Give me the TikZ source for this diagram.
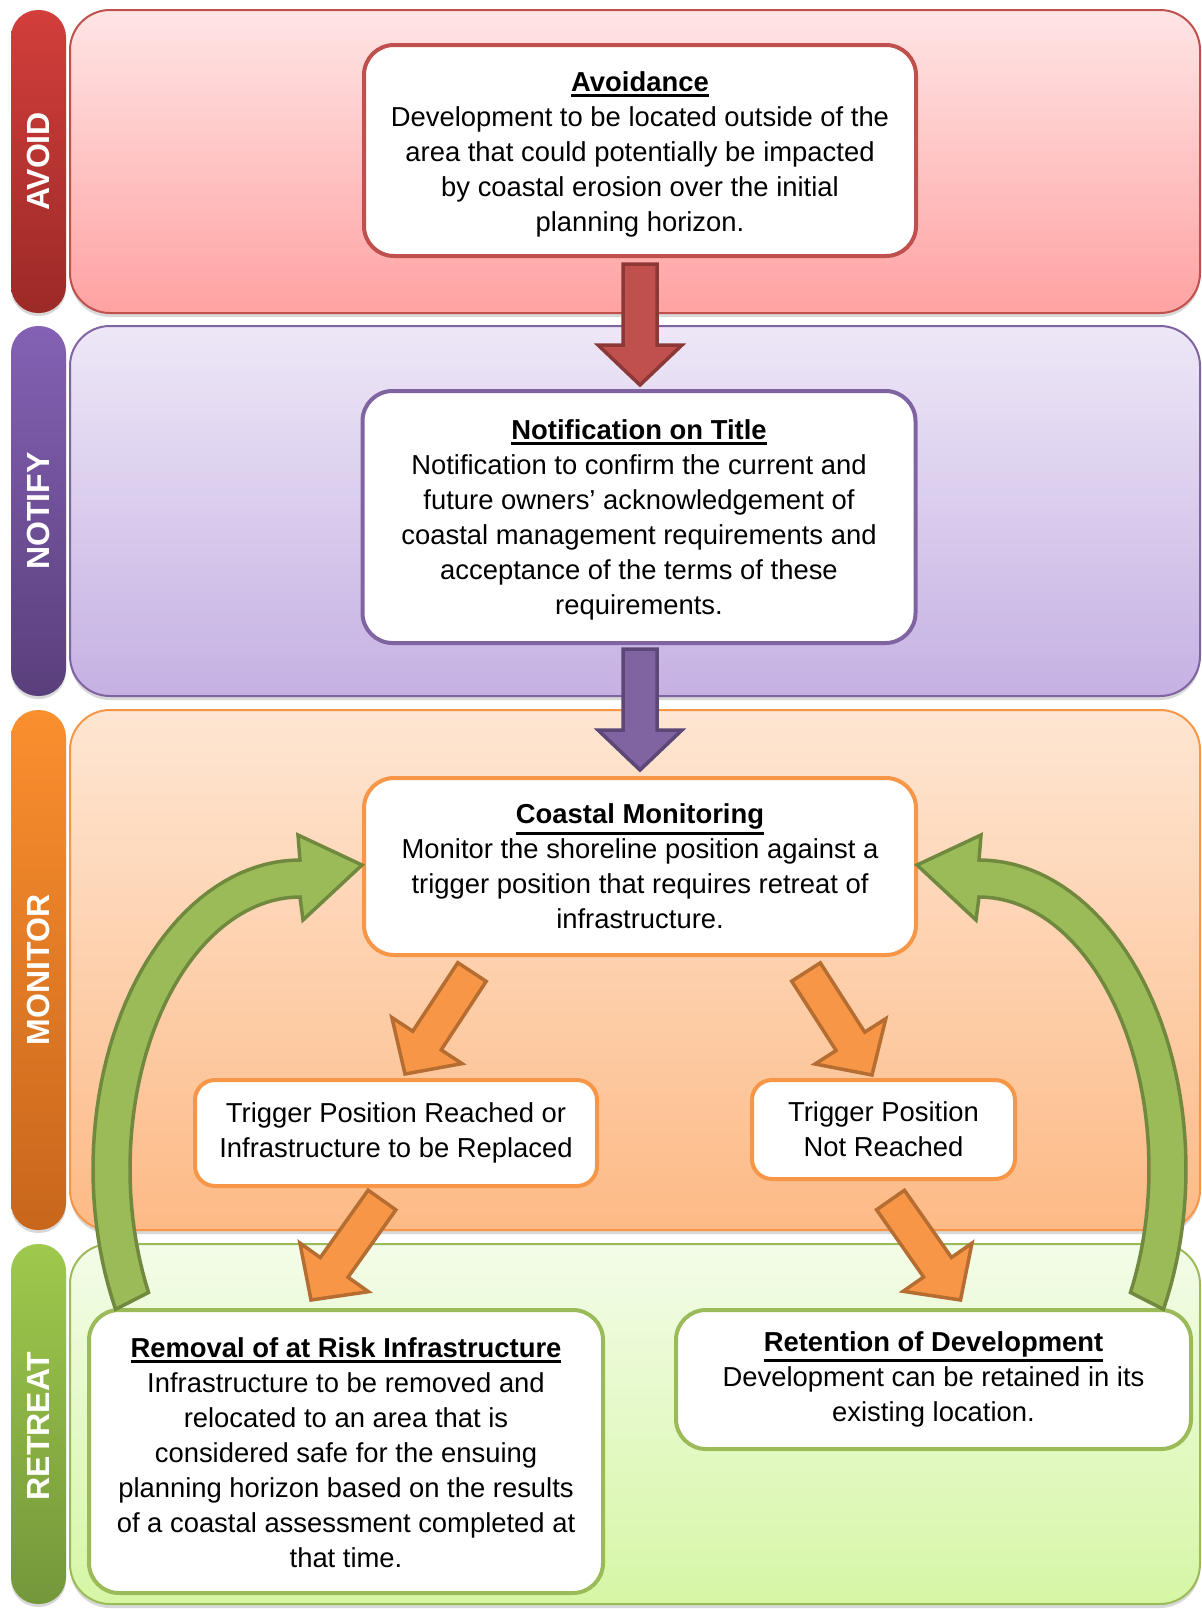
\documentclass[tikz,border=0pt]{standalone}
\usepackage{fontspec}
\setmainfont{Liberation Sans}
\usetikzlibrary{calc}
\usetikzlibrary{shadows}

% band colours
\definecolor{redline}{HTML}{C0504D}
\definecolor{redtop}{HTML}{FFE5E5}
\definecolor{redbot}{HTML}{FFA2A2}
\definecolor{redbartop}{HTML}{D23E3B}
\definecolor{redbarbot}{HTML}{9C2A27}
\definecolor{reddark}{HTML}{8C3836}
\definecolor{purpline}{HTML}{8064A2}
\definecolor{purptop}{HTML}{EEE7F7}
\definecolor{purpbot}{HTML}{C5B1E3}
\definecolor{purpbartop}{HTML}{8461B4}
\definecolor{purpbarbot}{HTML}{5A3F7C}
\definecolor{purpdark}{HTML}{5C4776}
\definecolor{orline}{HTML}{F79646}
\definecolor{ortop}{HTML}{FEE6D3}
\definecolor{orbot}{HTML}{FDBA86}
\definecolor{orbartop}{HTML}{FA8F2E}
\definecolor{orbarbot}{HTML}{C8661C}
\definecolor{ordark}{HTML}{B66D31}
\definecolor{grline}{HTML}{9BBB59}
\definecolor{grtop}{HTML}{F3FCE8}
\definecolor{grbot}{HTML}{D6F6A5}
\definecolor{grbartop}{HTML}{9EC94D}
\definecolor{grbarbot}{HTML}{74973A}
\definecolor{grdark}{HTML}{71893F}

% bold title with a heavy underline (optional strut height)
\newcommand{\boxtitle}[2][0pt]{\rule{0pt}{#1}\setbox0\hbox{\bfseries #2}\leavevmode\rlap{\rule[-\dimexpr\dp0+5pt\relax]{\wd0}{2.8pt}}\box0}

% straight block arrow between two named points
\newcommand{\fatarrow}[3][]{%
  \draw[#1] let \p1=(#2), \p2=(#3),
      \n1={atan2(\y2-\y1,\x2-\x1)}, \n2={veclen(\x2-\x1,\y2-\y1)} in
    ($(\p1)+(\n1+90:\shaftw)$) --
    ($(\p1)+(\n1:\n2-\headl)+(\n1+90:\shaftw)$) --
    ($(\p1)+(\n1:\n2-\headl)+(\n1+90:\headw)$) --
    (\p2) --
    ($(\p1)+(\n1:\n2-\headl)+(\n1-90:\headw)$) --
    ($(\p1)+(\n1:\n2-\headl)+(\n1-90:\shaftw)$) --
    ($(\p1)+(\n1-90:\shaftw)$) -- cycle;}

\begin{document}
\begin{tikzpicture}[x=1pt, y=-1pt,
    band/.style={line width=2pt, rounded corners=40pt,
      drop shadow={shadow xshift=0pt, shadow yshift=-4pt, opacity=.3}},
    sidebar/.style={draw=none, rounded corners=27pt,
      drop shadow={shadow xshift=0pt, shadow yshift=-3pt, opacity=.3}},
    sidelabel/.style={rotate=90, text=white, font=\fontsize{32pt}{38pt}\selectfont\bfseries},
    stage/.style={draw, fill=white, line width=4pt, rounded corners=30pt, align=center,
      inner sep=0pt, font=\fontsize{27.4pt}{35pt}\selectfont},
    outcome/.style={stage, rounded corners=20pt},
    blockarrow/.style={line width=3.5pt, line join=miter}]

    % Sizes of the straight block arrows
    \def\shaftw{17pt}  % half shaft width
    \def\headw{42pt}   % half head width
    \def\headl{40pt}   % head length

    \useasboundingbox[fill=white] (0,0) rectangle (1202,1609);

    % Draw the four bands
    \draw[band, draw=redline, top color=redtop, bottom color=redbot] (70,10) rectangle (1200,313);
    \draw[band, draw=purpline, top color=purptop, bottom color=purpbot] (70,326) rectangle (1200,696);
    \draw[band, draw=orline, top color=ortop, bottom color=orbot] (70,710) rectangle (1200,1230);
    \draw[band, draw=grline, top color=grtop, bottom color=grbot] (70,1244) rectangle (1200,1604);

    % Draw the side bars
    \path[sidebar, top color=redbartop, bottom color=redbarbot] (11,10) rectangle (66,313);
    \path[sidebar, top color=purpbartop, bottom color=purpbarbot] (11,326) rectangle (66,696);
    \path[sidebar, top color=orbartop, bottom color=orbarbot] (11,710) rectangle (66,1230);
    \path[sidebar, top color=grbartop, bottom color=grbarbot] (11,1244) rectangle (66,1604);

    \node[sidelabel] (lavoid) at (38.5,161.5) {AVOID};
    \node[sidelabel] (lnotify) at (38.5,511) {NOTIFY};
    \node[sidelabel] (lmonitor) at (38.5,970) {MONITOR};
    \node[sidelabel] (lretreat) at (38.5,1426) {RETREAT};

    % Stage boxes
    \node[stage, draw=redline, minimum width=552pt, minimum height=211pt] (avoid) at (640,150.5)
      {\boxtitle[28pt]{Avoidance}\\Development to be located outside of the\\area that could potentially be impacted\\by coastal erosion over the initial\\planning horizon.};
    \node[stage, draw=purpline, minimum width=553pt, minimum height=252pt] (notify) at (639,517)
      {\boxtitle[26pt]{Notification on Title}\\Notification to confirm the current and\\future owners’ acknowledgement of\\coastal management requirements and\\acceptance of the terms of these\\requirements.};
    \node[stage, draw=orline, minimum width=552pt, minimum height=177pt] (coast) at (640,866.5)
      {\boxtitle{Coastal Monitoring}\\Monitor the shoreline position against a\\trigger position that requires retreat of\\infrastructure.};
    \node[outcome, draw=orline, minimum width=402pt, minimum height=106pt] (trigL) at (396,1133)
      {Trigger Position Reached or\\Infrastructure to be Replaced};
    \node[outcome, draw=orline, minimum width=263pt, minimum height=99pt] (trigR) at (883.5,1129.5)
      {Trigger Position\\Not Reached};
    \node[stage, draw=grline, minimum width=514pt, minimum height=283pt] (removal) at (346,1451.5)
      {\boxtitle[23pt]{Removal of at Risk Infrastructure}\\Infrastructure to be removed and\\relocated to an area that is\\considered safe for the ensuing\\planning horizon based on the results\\of a coastal assessment completed at\\that time.};
    \node[stage, draw=grline, minimum width=515pt, minimum height=139pt] (retain) at (933.5,1379.5)
      {\boxtitle{Retention of Development}\\Development can be retained in its\\existing location.};

    % Arrow end points
    \coordinate (ra) at ($(avoid.south)+(0,6)$);
    \coordinate (rb) at ($(notify.north)+(1,-4)$);
    \coordinate (pa) at ($(notify.south)+(1,4)$);
    \coordinate (pb) at ($(coast.north)+(0,-6)$);
    \coordinate (oa1) at ($(coast.south)+(-168,15)$);
    \coordinate (ob1) at ($(trigL.north)+(9,-4)$);
    \coordinate (oa2) at ($(coast.south)+(166,15)$);
    \coordinate (ob2) at ($(trigR.north)+(-11.5,-3)$);
    \coordinate (oa3) at ($(trigL.south)+(-14,12)$);
    \coordinate (ob3) at ($(removal.north)+(-35,-8)$);
    \coordinate (oa4) at ($(trigR.south)+(7,19)$);
    \coordinate (ob4) at ($(retain.north)+(27,-8)$);

    % Straight block arrows
    \fatarrow[blockarrow, fill=redline, draw=reddark]{ra}{rb}
    \fatarrow[blockarrow, fill=purpline, draw=purpdark]{pa}{pb}
    \fatarrow[blockarrow, fill=orline, draw=ordark]{oa1}{ob1}
    \fatarrow[blockarrow, fill=orline, draw=ordark]{oa2}{ob2}
    \fatarrow[blockarrow, fill=orline, draw=ordark]{oa3}{ob3}
    \fatarrow[blockarrow, fill=orline, draw=ordark]{oa4}{ob4}

    % Curved arrows back to monitoring
    \draw[blockarrow, fill=grline, draw=grdark]
      plot[domain=153:270, samples=50] ({300+207*cos(\x)}, {1169+309*sin(\x)})
      -- (298,835) -- (362,865) -- (303,920)
      -- plot[domain=270:153, samples=50] ({300+170*cos(\x)}, {1169+272*sin(\x)})
      -- cycle;
    \draw[blockarrow, fill=grline, draw=grdark]
      plot[domain=27:-90, samples=50] ({979+207*cos(\x)}, {1169+309*sin(\x)})
      -- (981,835) -- (917,865) -- (976,920)
      -- plot[domain=-90:27, samples=50] ({979+170*cos(\x)}, {1169+272*sin(\x)})
      -- cycle;

\end{tikzpicture}
\end{document}
